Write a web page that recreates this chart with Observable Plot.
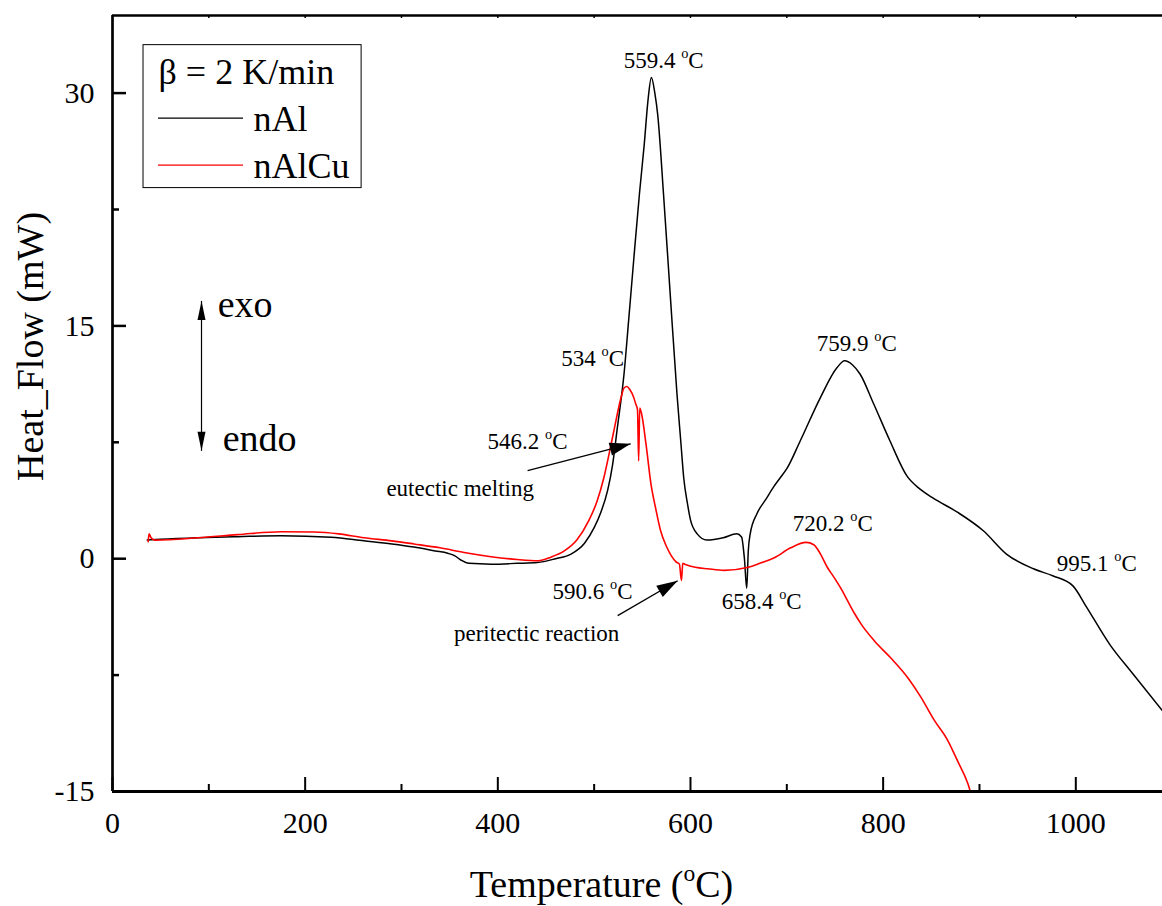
<!DOCTYPE html>
<html>
<head>
<meta charset="utf-8">
<script src="https://cdn.jsdelivr.net/npm/d3@7"></script>
<script src="https://cdn.jsdelivr.net/npm/@observablehq/plot@0.6"></script>
<style>
  html, body { margin: 0; padding: 0; background: #fff; overflow: hidden; }
</style>
</head>
<body>
<div id="chart"></div>
<script>
// ---------------- data ----------------
const nAlT = [36, 50, 89, 130, 175, 227, 261, 290, 313, 335, 348, 355, 362, 370, 393, 420, 441, 460, 476, 490, 500, 507, 514, 519, 524, 531, 536, 541, 547, 552, 556, 559.4, 563, 566, 572, 579, 586, 590, 593, 597, 600, 607, 617, 634, 648, 653, 656, 658.4, 660, 662, 669, 678, 686, 693, 700, 714, 735, 752, 760, 768, 776, 790, 807, 825, 838, 852, 877, 904, 928, 956, 976, 997, 1011, 1035, 1059, 1090];
const nAlV = [1.2, 1.25, 1.35, 1.42, 1.48, 1.38, 1.15, 0.95, 0.75, 0.5, 0.35, 0.2, -0.1, -0.3, -0.35, -0.3, -0.25, 0.0, 0.3, 1.0, 2.0, 3.0, 4.4, 6.0, 8.4, 11.9, 15.5, 19.2, 23.5, 26.7, 29.6, 31.0, 30.0, 28.6, 23.5, 17.0, 10.6, 7.5, 5.2, 3.5, 2.5, 1.6, 1.2, 1.35, 1.6, 1.4, 0.0, -1.9, 0.5, 1.6, 2.9, 3.8, 4.6, 5.2, 5.8, 7.6, 10.4, 12.3, 12.75, 12.5, 11.9, 10.0, 7.6, 5.3, 4.5, 3.9, 3.0, 1.8, 0.3, -0.65, -1.1, -1.75, -3.1, -5.5, -7.4, -9.8];

const nAlCuT = [37, 38, 40, 44, 89, 130, 175, 209, 235, 261, 290, 313, 340, 365, 393, 420, 442, 455, 469, 482, 494, 503, 510, 516, 521, 528, 531, 534, 537, 541, 543, 545, 546.2, 547.3, 549, 554, 559, 564, 569, 575, 580, 585, 588.5, 590.6, 592, 594, 605, 618, 635, 660, 674, 687, 704, 720, 728, 735, 742, 749, 756, 763, 770, 777, 791, 808, 826, 839, 853, 867, 877, 888, 895];
const nAlCuV = [1.1, 1.6, 1.35, 1.2, 1.35, 1.55, 1.74, 1.72, 1.6, 1.35, 1.15, 0.95, 0.7, 0.4, 0.13, -0.05, -0.13, 0.1, 0.5, 1.2, 2.4, 3.7, 5.2, 6.9, 8.4, 10.4, 11.0, 11.1, 10.9, 10.4, 10.0, 9.6, 6.3, 9.7, 9.4, 7.3, 4.8, 3.2, 1.8, 0.8, 0.2, -0.2, -0.35, -1.4, -0.3, -0.35, -0.55, -0.65, -0.75, -0.55, -0.25, 0.06, 0.7, 1.05, 0.9, 0.3, -0.55, -1.2, -1.9, -2.7, -3.5, -4.2, -5.3, -6.4, -7.7, -8.9, -10.4, -11.7, -13.0, -14.5, -16.0];

const xTicks = [0, 200, 400, 600, 800, 1000];
const xMinorTicks = [100, 300, 500, 700, 900];
const topTicks = [100, 200, 300, 400, 500, 600, 700, 800, 900, 1000];
const yTicks = [-15, 0, 15, 30];
const yMinorTicks = [-7.5, 7.5, 22.5];

const annotText = ["559.4 °C", "534 °C", "546.2 °C", "eutectic melting", "759.9 °C", "720.2 °C", "590.6 °C", "658.4 °C", "995.1 °C", "peritectic reaction"];
const annotT    = [572.2, 498.4, 430.9, 360.9, 772.6, 747.7, 498.4, 673.9, 1021.8, 440.3];
const annotV    = [31.61, 12.42, 7.08, 4.06, 13.39, 1.8, -2.58, -3.22, -0.77, -5.28];

const arrowName = ["eutectic", "peritectic"];
const arrowT1 = [430.9, 524.4];
const arrowV1 = [5.67, -3.67];
const arrowT2 = [537.9, 586.7];
const arrowV2 = [7.40, -1.42];

const exoEndoT = 92.4;
const exoEndoV = [16.61, 6.95];
const exoEndoText = ["exo", "endo"];
const exoEndoTextT = [109.2, 114.4];
const exoEndoTextV = [15.6, 6.95];

const legendTitle = "β = 2 K/min";
const legendNames = ["nAl", "nAlCu"];
const legendColors = ["#000000", "#ff0000"];
const legendBox = {x1: 32.2, x2: 258.6, y1: 23.88, y2: 33.09};
const legendTitlePos = [47.8, 30.58];
const legendLineT = [47.8, 136];
const legendLineV = [28.39, 25.36];
const legendTextT = 146.4;
const legendTextV = [27.55, 24.53];

// ---------------- layout ----------------
const W = 1162, H = 906;
const mL = 112, mR = 0, mT = 15, mB = 115;
const xDomain = [0, 1090], yDomain = [-15, 35];
const plotW = W - mL - mR, plotH = H - mT - mB;
const kx = plotW / (xDomain[1] - xDomain[0]);
const ky = plotH / (yDomain[1] - yDomain[0]);

const nAl = nAlT.map((t, i) => ({t, v: nAlV[i]}));
const nAlCu = nAlCuT.map((t, i) => ({t, v: nAlCuV[i]}));
const annots = annotText.map((text, i) => ({text, t: annotT[i], v: annotV[i]}));
const arrows = arrowName.map((n, i) => ({t1: arrowT1[i], v1: arrowV1[i], t2: arrowT2[i], v2: arrowV2[i]}));

function headSymbol(bearingDeg, len, hw) {
  const a = bearingDeg * Math.PI / 180;
  const ux = Math.sin(a), uy = -Math.cos(a);
  const px = -uy, py = ux;
  return {
    draw(ctx) {
      ctx.moveTo(0, 0);
      ctx.lineTo(-ux * len + px * hw, -uy * len + py * hw);
      ctx.lineTo(-ux * len - px * hw, -uy * len - py * hw);
      ctx.closePath();
    }
  };
}
function bearing(a) {
  const dx = (a.t2 - a.t1) * kx;
  const dy = -(a.v2 - a.v1) * ky;
  return Math.atan2(dx, -dy) * 180 / Math.PI;
}

const headMarks = arrows.map(a =>
  Plot.dot([a], {x: "t2", y: "v2", symbol: headSymbol(bearing(a), 21, 6.5), fill: "#000", stroke: "none", r: 5})
);

const serif = "'Liberation Serif', 'Times New Roman', serif";

const chart = Plot.plot({
  width: W, height: H,
  marginLeft: mL, marginRight: mR, marginTop: mT, marginBottom: mB,
  style: {fontFamily: serif, fontSize: "30px", color: "#000", background: "#fff"},
  x: {domain: xDomain, ticks: xTicks, tickSize: 0, tickPadding: 20, tickFormat: d => String(d), label: null},
  y: {domain: yDomain, ticks: yTicks, tickSize: 0, tickPadding: 18, tickFormat: d => String(d), label: null},
  marks: [
    // curves
    Plot.line(nAl, {x: "t", y: "v", stroke: "#000", strokeWidth: 1.5, curve: "monotone-x", clip: true}),
    Plot.line(nAlCu, {x: "t", y: "v", stroke: "#ff0000", strokeWidth: 1.6, curve: "monotone-x", clip: true}),
    // frame
    Plot.ruleX([xDomain[0]], {stroke: "#000", strokeWidth: 2.7}),
    Plot.ruleY([yDomain[0]], {stroke: "#000", strokeWidth: 3}),
    Plot.ruleY([yDomain[1]], {stroke: "#000", strokeWidth: 2.7}),
    // ticks (inward)
    Plot.ruleX(xTicks, {stroke: "#000", strokeWidth: 2, insetTop: plotH - 14}),
    Plot.ruleX(xMinorTicks, {stroke: "#000", strokeWidth: 2, insetTop: plotH - 7}),
    Plot.ruleX(topTicks, {stroke: "#000", strokeWidth: 1.5, insetBottom: plotH - 3}),
    Plot.ruleY(yTicks, {stroke: "#000", strokeWidth: 2.5, insetRight: plotW - 14}),
    Plot.ruleY(yMinorTicks, {stroke: "#000", strokeWidth: 2.5, insetRight: plotW - 7}),
    // annotations
    Plot.text(annots, {x: "t", y: "v", text: "text", textAnchor: "middle", lineAnchor: "bottom", fontSize: 23, fill: "#000"}),
    Plot.link(arrows, {x1: "t1", y1: "v1", x2: "t2", y2: "v2", stroke: "#000", strokeWidth: 1.3}),
    ...headMarks,
    // exo / endo arrow
    Plot.link([{t: exoEndoT, a: exoEndoV[0], b: exoEndoV[1]}], {x1: "t", x2: "t", y1: "a", y2: "b", stroke: "#000", strokeWidth: 1.2}),
    Plot.dot([{t: exoEndoT, v: exoEndoV[0]}], {x: "t", y: "v", symbol: headSymbol(0, 19, 4), fill: "#000", stroke: "none", r: 5}),
    Plot.dot([{t: exoEndoT, v: exoEndoV[1]}], {x: "t", y: "v", symbol: headSymbol(180, 19, 4), fill: "#000", stroke: "none", r: 5}),
    Plot.text(exoEndoText, {x: (d, i) => exoEndoTextT[i], y: (d, i) => exoEndoTextV[i], text: d => d, textAnchor: "start", lineAnchor: "bottom", fontSize: 38, fill: "#000"}),
    // legend
    Plot.rect([legendBox], {x1: "x1", x2: "x2", y1: "y1", y2: "y2", fill: "#fff", stroke: "#000", strokeWidth: 1}),
    Plot.text([legendTitle], {x: legendTitlePos[0], y: legendTitlePos[1], text: d => d, textAnchor: "start", lineAnchor: "bottom", fontSize: 36, fill: "#000"}),
    Plot.ruleY(legendNames, {y: (d, i) => legendLineV[i], x1: legendLineT[0], x2: legendLineT[1], stroke: (d, i) => legendColors[i], strokeWidth: 1.3}),
    Plot.text(legendNames, {x: legendTextT, y: (d, i) => legendTextV[i], text: d => d, textAnchor: "start", lineAnchor: "bottom", fontSize: 36, fill: "#000"}),
    // axis titles
    Plot.text(["Temperature (°C)"], {frameAnchor: "bottom", dx: -36, dy: 105, text: d => d, textAnchor: "middle", lineAnchor: "bottom", fontSize: 38, fill: "#000"}),
    Plot.text(["Heat_Flow (mW)"], {frameAnchor: "left", rotate: -90, dx: -70, dy: -57, text: d => d, textAnchor: "middle", lineAnchor: "bottom", fontSize: 38, fill: "#000"})
  ]
});

document.getElementById("chart").appendChild(chart);

// superscript "o" for degree marks
chart.querySelectorAll("text").forEach(el => {
  if (el.children.length) return;
  const s = el.textContent;
  const k = s.indexOf("°");
  if (k < 0) return;
  const fs = parseFloat(getComputedStyle(el).fontSize) || 23;
  const before = s.slice(0, k), after = s.slice(k + 1);
  el.textContent = "";
  const ns = "http://www.w3.org/2000/svg";
  const t0 = document.createElementNS(ns, "tspan"); t0.textContent = before;
  const t1 = document.createElementNS(ns, "tspan"); t1.textContent = "o";
  t1.setAttribute("font-size", (fs * 0.62).toFixed(1));
  t1.setAttribute("dy", (-fs * 0.42).toFixed(1));
  const t2 = document.createElementNS(ns, "tspan"); t2.textContent = after;
  t2.setAttribute("dy", (fs * 0.42).toFixed(1));
  el.append(t0, t1, t2);
});
</script>
</body>
</html>
